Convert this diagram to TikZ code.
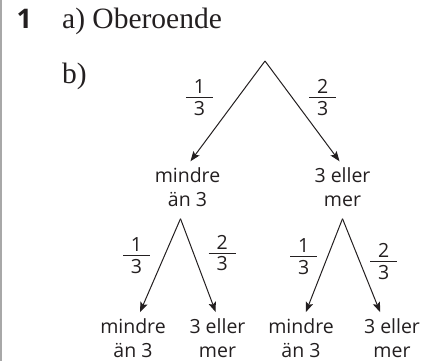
\documentclass[tikz,border=0pt]{standalone}
\usepackage{fontspec}
\setmainfont{Liberation Serif}
\setsansfont{Open Sans}
\usetikzlibrary{arrows.meta,positioning,calc}
\definecolor{kantgra}{HTML}{A8A8A8}
\definecolor{tradsvart}{HTML}{231F20}
\tikzset{
  utfall/.style={font=\sffamily\fontsize{19.5}{24}\selectfont,align=center,inner sep=2pt,text=tradsvart},
  grenpil/.style={-{Stealth[length=10pt,width=7.5pt,inset=2pt]},line width=1pt,draw=tradsvart,shorten >=5pt},
  sannl/.style={font=\sffamily\fontsize{19.5}{25}\selectfont,inner sep=0pt,text=tradsvart},
  uppgtext/.style={font=\fontsize{29.5}{34}\selectfont,anchor=base west,inner sep=0pt,text=tradsvart}
}
\setlength{\arrayrulewidth}{0.9pt}
\newcommand{\bruk}[2]{\begin{tabular}{@{}c@{}}\makebox[27pt]{#1}\\[-4pt]\hline #2\end{tabular}}

\begin{document}
\begin{tikzpicture}[x=1pt,y=-1pt]
\useasboundingbox (0,0) rectangle (430,361);
\draw[kantgra,line width=2pt] (1,0) -- (1,361);
\node[uppgtext,font=\sffamily\bfseries\fontsize{27}{30}\selectfont] (nr) at (16.5,29) {1};
\node[uppgtext] (uppa) at (62,29) {a) Oberoende};
\node[uppgtext] (uppb) at (62,83) {b)};
% forsta steget
\coordinate (rot) at (265,61);
\node[utfall] (v1) at (187.5,187) {mindre\\än 3};
\node[utfall] (v2) at (342.5,187) {3 eller\\mer};
\draw[grenpil] (rot) -- node[sannl,pos=0.37,left=23pt]{\bruk{1}{3}} (v1.north);
\draw[grenpil] (rot) -- node[sannl,pos=0.37,right=15pt]{\bruk{2}{3}} (v2.north);
% andra steget
\coordinate (d1) at ([shift={(-7,10)}]v1.south);
\coordinate (d2) at ([shift={(0,10)}]v2.south);
\node[utfall] (a1) at (133,338.5) {mindre\\än 3};
\node[utfall] (a2) at (217.5,338.5) {3 eller\\mer};
\node[utfall] (a3) at (301,338.5) {mindre\\än 3};
\node[utfall] (a4) at (392,338.5) {3 eller\\mer};
\draw[grenpil] (d1) -- node[sannl,pos=0.4,left=13pt]{\bruk{1}{3}} ([xshift=5pt]a1.north);
\draw[grenpil] (d1) -- node[sannl,pos=0.37,right=14pt]{\bruk{2}{3}} (a2.north);
\draw[grenpil] (d2) -- node[sannl,pos=0.41,left=9pt]{\bruk{1}{3}} ([xshift=3pt]a3.north);
\draw[grenpil] (d2) -- node[sannl,pos=0.46,right=9pt]{\bruk{2}{3}} ([xshift=-10pt]a4.north);
\end{tikzpicture}
\end{document}
